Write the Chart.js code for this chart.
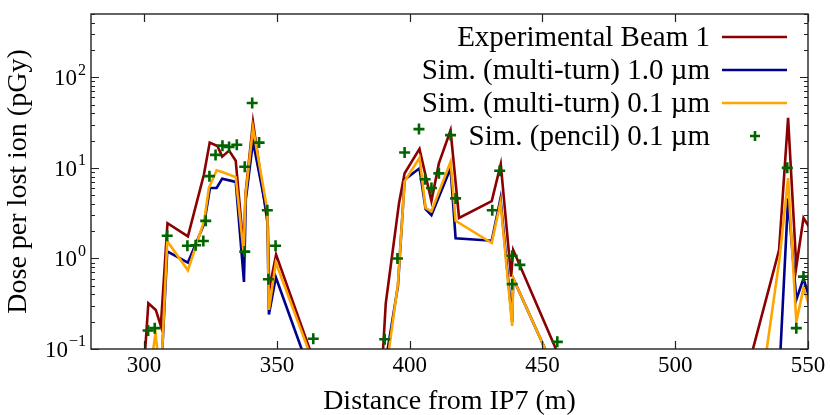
<!DOCTYPE html>
<html lang="en">
<head>
<meta charset="UTF-8" />
<title>Dose per lost ion vs distance from IP7</title>
<script src="https://cdn.jsdelivr.net/npm/chart.js"></script>
<style>
  body { margin: 0; background: #fff; }
</style>
</head>
<body>
<canvas id="doseChart" width="830" height="415"></canvas>
<script>
// Experimental Beam 1 (null = gap between groups)
const expX = [300.2, 301.6, 304.4, 306.3, 308.8, 316.5, 322.5, 324.7, 327.6, 329.4, 332.0, 334.5, 337.5, 338.2, 341.0, 346.6, 347.1, 349.7, 363.5,
  376.0,
  389.8, 391.0, 396.0, 398.1, 403.7, 408.2, 411.0, 415.4, 418.6, 430.9, 434.3, 438.2, 439.0, 456.5,
  500.0,
  528.4, 539.1, 542.5, 545.6, 548.3, 550.5];
const expY = [0.08, 0.32, 0.27, 0.18, 2.45, 1.75, 8.4, 19, 17.4, 13.3, 15.5, 12, 1.25, 5.2, 32, 2.3, 0.45, 1.1, 0.08,
  null,
  0.08, 0.32, 4.1, 8.7, 16.2, 4.3, 11.2, 26, 2.8, 4.3, 11, 0.63, 1.24, 0.08,
  null,
  0.08, 1.24, 35.6, 0.81, 2.8, 2.2];

// Sim. (multi-turn) 1.0 um
const sim10X = [306.6, 308.7, 316.5, 322.6, 324.8, 327.3, 329.4, 334.5, 337.6, 338.3, 341.0, 346.4, 347.0, 349.6, 360.5,
  376.0,
  391.2, 395.6, 398.1, 403.7, 406.0, 408.2, 415.4, 417.3, 430.9, 434.2, 438.6, 439.0, 452.5,
  500.0,
  539.5, 542.5, 545.6, 548.3, 550.5];
const sim10Y = [0.07, 1.2, 0.9, 2.4, 6.0, 6.0, 7.6, 7.0, 0.55, 4.5, 19.5, 3.0, 0.24, 0.62, 0.08,
  null,
  0.08, 0.5, 7.4, 9.9, 3.5, 3.0, 9.9, 1.67, 1.57, 4.6, 0.2, 0.6, 0.08,
  null,
  0.08, 4.6, 0.35, 0.6, 0.37];

// Sim. (multi-turn) 0.1 um
const sim01X = [302.7, 304.3, 305.5, 306.6, 308.7, 316.5, 322.6, 324.4, 327.3, 329.4, 334.5, 337.5, 338.2, 341.0, 346.4, 347.0, 349.6, 363.0,
  376.0,
  391.8, 395.6, 398.1, 403.7, 406.0, 408.2, 415.4, 417.3, 430.9, 434.2, 438.6, 439.0, 452.5,
  500.0,
  534.0, 539.3, 542.5, 545.6, 548.3, 550.5];
const sim01Y = [0.07, 0.15, 0.07, 0.07, 1.55, 0.74, 2.6, 6.0, 9.4, 9.0, 7.9, 1.15, 5.0, 27.5, 3.4, 0.27, 0.9, 0.08,
  null,
  0.08, 0.53, 7.1, 12.9, 3.6, 3.3, 11.7, 2.6, 1.48, 4.2, 0.18, 0.6, 0.08,
  null,
  0.08, 1.0, 7.7, 0.2, 0.47, 0.3];

// Sim. (pencil) 0.1 um
const pencilX = [301.5, 304.0, 308.7, 316.3, 319.4, 322.3, 323.2, 324.6, 326.9, 329.5, 332.0, 334.9, 337.9, 337.9, 340.7, 343.3, 346.4, 346.8, 349.5, 363.7,
  390.6, 395.4, 398.1, 403.5, 405.8, 408.2, 411.0, 415.4, 417.3, 431.1, 433.9, 438.6, 441.5, 438.6, 455.6,
  542.2, 545.6, 548.3];
const pencilY = [0.16, 0.17, 1.78, 1.38, 1.4, 1.56, 2.6, 8.1, 13.9, 17.6, 17, 18, 10.3, 1.19, 52, 19, 3.4, 0.59, 1.38, 0.13,
  0.128, 1.0, 14.8, 26.8, 7.5, 6.0, 8.7, 23, 4.6, 3.4, 9.3, 1.07, 0.85, 0.52, 0.12,
  10, 0.17, 0.63];

const seriesNames = ['Experimental Beam 1', 'Sim. (multi-turn) 1.0 \u00b5m', 'Sim. (multi-turn) 0.1 \u00b5m', 'Sim. (pencil) 0.1 \u00b5m'];
const xTicks = [300, 350, 400, 450, 500, 550];
const yTicks = [0.1, 1, 10, 100];
const xTitle = 'Distance from IP7 (m)';
const yTitle = 'Dose per lost ion (pGy)';

const serif = '"Liberation Serif", "Times New Roman", serif';

function pts(xs, ys) {
  return xs.map((x, i) => ({ x: x, y: ys[i] }));
}

function lineSet(label, xs, ys, color, order) {
  return {
    label: label,
    data: pts(xs, ys),
    borderColor: color,
    backgroundColor: color,
    borderWidth: 2.6,
    borderJoinStyle: 'miter',
    pointRadius: 0,
    tension: 0,
    spanGaps: false,
    order: order
  };
}

// axes frame, inward ticks, labels, titles and the legend
const decorations = {
  id: 'decorations',
  afterDraw(chart) {
    const ctx = chart.ctx;
    const a = chart.chartArea;
    const xs = chart.scales.x;
    const ys = chart.scales.y;
    ctx.save();
    ctx.strokeStyle = '#222';
    ctx.fillStyle = '#000';
    ctx.lineWidth = 1.4;
    ctx.strokeRect(a.left, a.top, a.right - a.left, a.bottom - a.top);

    ctx.lineWidth = 1.2;
    ctx.beginPath();
    xTicks.forEach(v => {
      const px = Math.round(xs.getPixelForValue(v)) + 0.5;
      ctx.moveTo(px, a.bottom); ctx.lineTo(px, a.bottom - 8);
      ctx.moveTo(px, a.top); ctx.lineTo(px, a.top + 8);
    });
    yTicks.forEach(d => {
      for (let k = 1; k <= 9; k++) {
        const v = d * k;
        if (v > ys.max) break;
        const py = Math.round(ys.getPixelForValue(v)) + 0.5;
        const len = k === 1 ? 8 : 4;
        ctx.moveTo(a.left, py); ctx.lineTo(a.left + len, py);
        ctx.moveTo(a.right, py); ctx.lineTo(a.right - len, py);
      }
    });
    ctx.stroke();

    // x tick labels
    ctx.font = '23px ' + serif;
    ctx.textAlign = 'center';
    ctx.textBaseline = 'middle';
    xTicks.forEach(v => {
      ctx.fillText(String(v), xs.getPixelForValue(v), a.bottom + 17);
    });

    // y tick labels as 10 with a raised exponent
    yTicks.forEach(v => {
      const py = ys.getPixelForValue(v);
      const e = Math.round(Math.log10(v));
      const sup = e < 0 ? '\u2212' + Math.abs(e) : String(e);
      ctx.textAlign = 'right';
      ctx.font = '16px ' + serif;
      const w = ctx.measureText(sup).width;
      ctx.fillText(sup, a.left - 5, py - 7);
      ctx.font = '23px ' + serif;
      ctx.fillText('10', a.left - 6 - w, py + 2);
    });

    // axis titles
    ctx.font = '28px ' + serif;
    ctx.textAlign = 'center';
    ctx.fillText(xTitle, (a.left + a.right) / 2, 402);
    ctx.save();
    ctx.translate(19, (a.top + a.bottom) / 2);
    ctx.rotate(-Math.PI / 2);
    ctx.fillText(yTitle, 0, 0);
    ctx.restore();

    // legend: text right aligned, sample on the right
    ctx.font = '29px ' + serif;
    chart.data.datasets.forEach((ds, i) => {
      const cy = 37 + i * 33;
      ctx.textAlign = 'right';
      ctx.fillStyle = '#000';
      ctx.fillText(ds.label, 710, cy + 1);
      ctx.strokeStyle = ds.borderColor;
      ctx.lineWidth = 2.6;
      ctx.beginPath();
      if (ds.showLine === false) {
        ctx.moveTo(750, cy); ctx.lineTo(760, cy);
        ctx.moveTo(755, cy - 5); ctx.lineTo(755, cy + 5);
      } else {
        ctx.moveTo(722, cy); ctx.lineTo(787, cy);
      }
      ctx.stroke();
    });
    ctx.restore();
  }
};

new Chart(document.getElementById('doseChart'), {
  type: 'line',
  data: {
    datasets: [
      lineSet(seriesNames[0], expX, expY, '#8b0000', 3),
      lineSet(seriesNames[1], sim10X, sim10Y, '#00008b', 2),
      lineSet(seriesNames[2], sim01X, sim01Y, '#ffa500', 1),
      {
        label: seriesNames[3],
        data: pts(pencilX, pencilY),
        showLine: false,
        borderColor: '#006400',
        backgroundColor: '#006400',
        pointStyle: 'cross',
        pointRadius: 5.5,
        pointBorderWidth: 2.6,
        order: 0
      }
    ]
  },
  options: {
    responsive: false,
    animation: false,
    layout: { padding: { left: 91, top: 14, right: 22, bottom: 66 } },
    scales: {
      x: { type: 'linear', min: 280, max: 550, display: false },
      y: { type: 'logarithmic', min: 0.1, max: 500, display: false }
    },
    plugins: {
      legend: { display: false },
      tooltip: { enabled: false }
    }
  },
  plugins: [decorations]
});
</script>
</body>
</html>
